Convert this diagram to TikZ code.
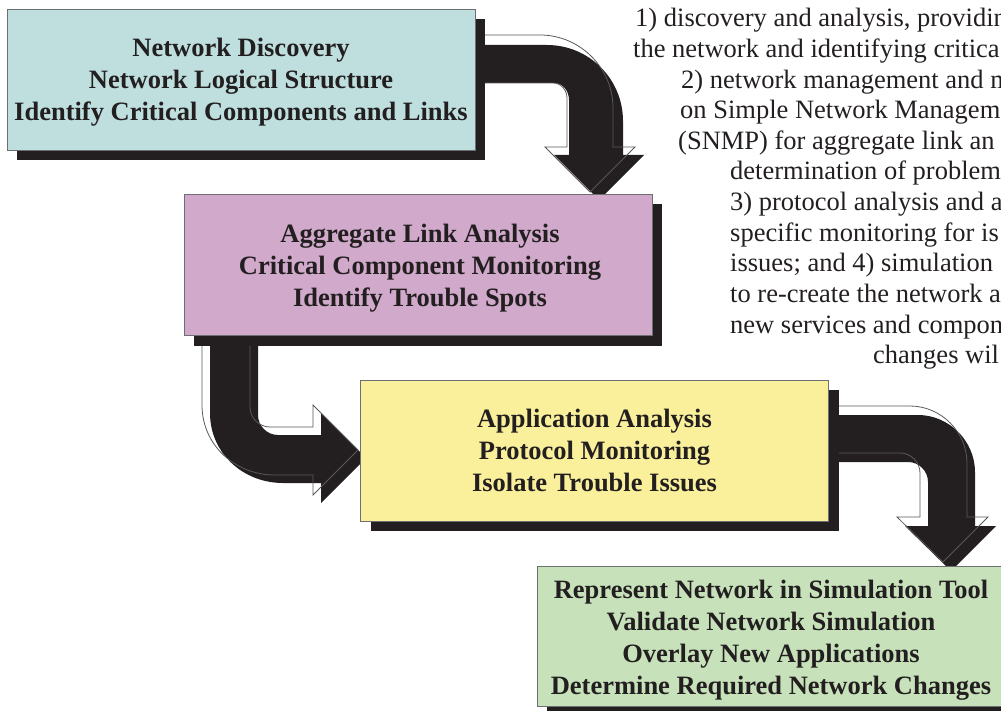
\documentclass[tikz,border=0pt]{standalone}
\usepackage{fontspec}
\setmainfont{Liberation Serif}
\usetikzlibrary{shadows,backgrounds}
\definecolor{shadowc}{HTML}{231F20}
\definecolor{cyanbox}{HTML}{BEDFDE}
\definecolor{purplebox}{HTML}{D0A9CB}
\definecolor{yellowbox}{HTML}{FAF09B}
\definecolor{greenbox}{HTML}{C7E2BA}
\definecolor{edgec}{HTML}{6D6E71}
\begin{document}
\begin{tikzpicture}[x=1pt,y=-1pt,
  stagebox/.style={draw=edgec, line width=0.9pt, minimum width=468pt, minimum height=141pt, inner sep=0pt,
    drop shadow={shadow xshift=10pt,shadow yshift=-10pt,fill=shadowc,opacity=1}},
  stagetext/.style={font=\bfseries\fontsize{26.5pt}{32pt}\selectfont, align=center, text=shadowc, inner sep=0pt},
  bodytext/.style={font=\fontsize{26.5pt}{30.6pt}\selectfont, anchor=base west, inner sep=0pt, text=shadowc},
  arrowbody/.style={fill=shadowc},
  arrowrim/.style={draw=black!65, line width=0.8pt, line join=miter}]
\path[use as bounding box] (0,0) rectangle (1001,711);
\clip (0,0) rectangle (1001,711);

% stage boxes
\node[stagebox, fill=cyanbox] (b1) at (241,79.5) {};
\node[stagebox, fill=purplebox] (b2) at (418,265) {};
\node[stagebox, fill=yellowbox] (b3) at (594.5,450.5) {};
\node[stagebox, fill=greenbox, minimum height=140pt] (b4) at (771,636) {};

\node[stagetext] (t1) at (241,81.9) {Network Discovery\\Network Logical Structure\\Identify Critical Components and Links};
\node[stagetext] (t2) at (420,267.9) {Aggregate Link Analysis\\Critical Component Monitoring\\Identify Trouble Spots};
\node[stagetext] (t3) at (594.5,450) {Application Analysis\\Protocol Monitoring\\Isolate Trouble Issues};
\node[stagetext] (t4) at (771,639.9) {Represent Network in Simulation Tool\\Validate Network Simulation\\Overlay New Applications\\Determine Required Network Changes};

% block arrows behind the boxes
\begin{pgfonlayer}{background}
% arrow 1: b1 -> b2
\fill[arrowbody] (484,45) -- (547,45) .. controls (589,45) and (623,79) .. (623,121) -- (623,155) -- (644,155)
  -- (599,200) -- (554,155) -- (569,155) -- (569,100) .. controls (569,91) and (563,83) .. (554,83) -- (484,83) -- cycle;
\draw[arrowrim] (475,35) -- (540,35) .. controls (580,35) and (613,68) .. (613,108) -- (613,147) -- (635,147)
  -- (590,192) -- (545,147) -- (567,147) -- (567,98) .. controls (567,90) and (561,83) .. (553,83) -- (475,83);
% arrow 2: b2 -> b3
\fill[arrowbody] (210,340) -- (210,413) .. controls (210,453) and (243,483) .. (283,483) -- (321,483) -- (321,503)
  -- (366,458) -- (321,413) -- (321,435) -- (278,435) .. controls (267,435) and (258,426) .. (258,415) -- (258,340) -- cycle;
\draw[arrowrim] (202,335) -- (202,405) .. controls (202,445) and (235,475) .. (275,475) -- (313,475) -- (313,495)
  -- (358,450) -- (313,405) -- (313,427) -- (270,427) .. controls (259,427) and (250,418) .. (250,407) -- (250,335);
% arrow 3: b3 -> b4
\fill[arrowbody] (836,415) -- (918,415) .. controls (949,415) and (975,441) .. (975,472) -- (975,526) -- (996,526)
  -- (951,571) -- (905,526) -- (928,526) -- (928,482) .. controls (928,471) and (919,462) .. (908,462) -- (836,462) -- cycle;
\draw[arrowrim] (828,406) -- (910,406) .. controls (941,406) and (967,432) .. (967,463) -- (967,517) -- (988,517)
  -- (943,562) -- (897,517) -- (920,517) -- (920,473) .. controls (920,462) and (911,453) .. (900,453) -- (828,453);
\end{pgfonlayer}

% running text on the right (cut by the picture edge)
\node[bodytext] (l1) at (635,27) {1) discovery and analysis, providin};
\node[bodytext] (l2) at (633,57.6) {the network and identifying critica};
\node[bodytext] (l3) at (681,88.2) {2) network management and m};
\node[bodytext] (l4) at (680,118.8) {on Simple Network Managem};
\node[bodytext] (l5) at (678,149.4) {(SNMP) for aggregate link an};
\node[bodytext] (l6) at (730,180) {determination of problem};
\node[bodytext] (l7) at (730,210.6) {3) protocol analysis and a};
\node[bodytext] (l8) at (730,241.2) {specific monitoring for is};
\node[bodytext] (l9) at (730,271.8) {issues; and 4) simulation};
\node[bodytext] (l10) at (730,302.4) {to re-create the network a};
\node[bodytext] (l11) at (730,333) {new services and compon};
\node[bodytext] (l12) at (873,363.6) {changes wil};
\end{tikzpicture}
\end{document}
